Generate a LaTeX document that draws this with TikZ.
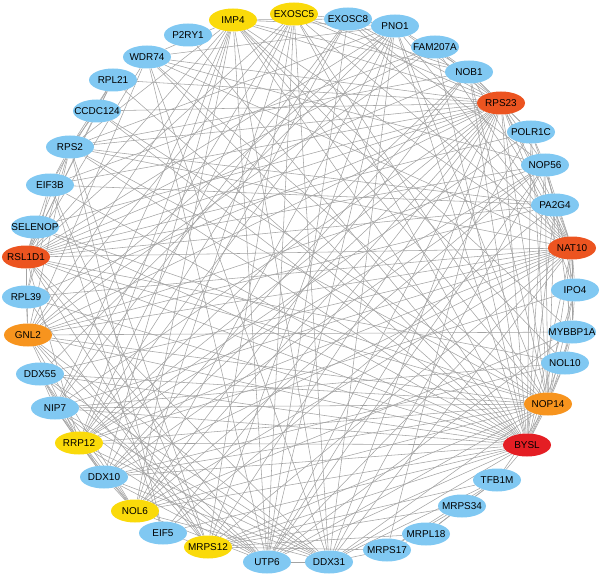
\documentclass[tikz,border=0pt]{standalone}
\usepackage{fontspec}
\setmainfont{Liberation Sans}
\usetikzlibrary{shapes.geometric,backgrounds}
\definecolor{nblue}{RGB}{128,200,242}
\definecolor{nyellow}{RGB}{250,218,10}
\definecolor{norange}{RGB}{247,148,30}
\definecolor{nredor}{RGB}{236,84,32}
\definecolor{nred}{RGB}{228,30,36}
\tikzset{
  gene/.style={ellipse, inner sep=0pt, minimum width=48bp, minimum height=23bp,
    font=\fontsize{10}{12}\selectfont, text=black},
  gb/.style={gene, fill=nblue},
  gy/.style={gene, fill=nyellow},
  go/.style={gene, fill=norange},
  gr/.style={gene, fill=nredor},
  gR/.style={gene, fill=nred},
  link/.style={draw=black!36, line width=0.55bp}
}
\begin{document}
\begin{tikzpicture}[x=1bp,y=-1bp]
\useasboundingbox (0,0) rectangle (600,575);
\node[gy] (IMP4) at (233,20) {\makebox[0pt]{IMP4}};
\node[gy] (EXOSC5) at (294,14) {\makebox[0pt]{EXOSC5}};
\node[gb] (EXOSC8) at (348,19) {\makebox[0pt]{EXOSC8}};
\node[gb] (PNO1) at (395,26) {\makebox[0pt]{PNO1}};
\node[gb] (FAM207A) at (435,47) {\makebox[0pt]{FAM207A}};
\node[gb] (NOB1) at (469,72) {\makebox[0pt]{NOB1}};
\node[gr] (RPS23) at (501,103) {\makebox[0pt]{RPS23}};
\node[gb] (POLR1C) at (531,132) {\makebox[0pt]{POLR1C}};
\node[gb] (NOP56) at (545,165) {\makebox[0pt]{NOP56}};
\node[gb] (PA2G4) at (555,205) {\makebox[0pt]{PA2G4}};
\node[gr] (NAT10) at (572,248) {\makebox[0pt]{NAT10}};
\node[gb] (IPO4) at (575,290) {\makebox[0pt]{IPO4}};
\node[gb] (MYBBP1A) at (572,332) {\makebox[0pt]{MYBBP1A}};
\node[gb] (NOL10) at (565,363) {\makebox[0pt]{NOL10}};
\node[go] (NOP14) at (548,404) {\makebox[0pt]{NOP14}};
\node[gR] (BYSL) at (527,445) {\makebox[0pt]{BYSL}};
\node[gb] (TFB1M) at (497,480) {\makebox[0pt]{TFB1M}};
\node[gb] (MRPS34) at (462,506) {\makebox[0pt]{MRPS34}};
\node[gb] (MRPL18) at (426,534) {\makebox[0pt]{MRPL18}};
\node[gb] (MRPS17) at (387,550) {\makebox[0pt]{MRPS17}};
\node[gb] (DDX31) at (329,562) {\makebox[0pt]{DDX31}};
\node[gb] (UTP6) at (267,562) {\makebox[0pt]{UTP6}};
\node[gy] (MRPS12) at (208,547) {\makebox[0pt]{MRPS12}};
\node[gb] (EIF5) at (163,533) {\makebox[0pt]{EIF5}};
\node[gy] (NOL6) at (135,511) {\makebox[0pt]{NOL6}};
\node[gb] (DDX10) at (104,477) {\makebox[0pt]{DDX10}};
\node[gy] (RRP12) at (79,443) {\makebox[0pt]{RRP12}};
\node[gb] (NIP7) at (55,408) {\makebox[0pt]{NIP7}};
\node[gb] (DDX55) at (40,374) {\makebox[0pt]{DDX55}};
\node[go] (GNL2) at (28,335) {\makebox[0pt]{GNL2}};
\node[gb] (RPL39) at (26,297) {\makebox[0pt]{RPL39}};
\node[gr] (RSL1D1) at (26,257) {\makebox[0pt]{RSL1D1}};
\node[gb] (SELENOP) at (35,227) {\makebox[0pt]{SELENOP}};
\node[gb] (EIF3B) at (50,185) {\makebox[0pt]{EIF3B}};
\node[gb] (RPS2) at (70,147) {\makebox[0pt]{RPS2}};
\node[gb] (CCDC124) at (97,111) {\makebox[0pt]{CCDC124}};
\node[gb] (RPL21) at (113,80) {\makebox[0pt]{RPL21}};
\node[gb] (WDR74) at (147,57) {\makebox[0pt]{WDR74}};
\node[gb] (P2RY1) at (188,35) {\makebox[0pt]{P2RY1}};
\begin{pgfonlayer}{background}
\foreach \a/\b in {
 IMP4/EXOSC8, IMP4/PNO1, IMP4/NOB1, IMP4/RPS23, IMP4/NAT10, IMP4/NOP14, IMP4/BYSL,
 IMP4/DDX31, IMP4/UTP6, IMP4/NOL6, IMP4/DDX10, IMP4/RRP12, IMP4/NIP7, IMP4/GNL2,
 IMP4/RSL1D1, IMP4/WDR74, IMP4/RPS2, IMP4/NOL10, IMP4/MYBBP1A,
 EXOSC5/EXOSC8, EXOSC5/NOB1, EXOSC5/RPS23, EXOSC5/NAT10, EXOSC5/NOP14, EXOSC5/BYSL,
 EXOSC5/UTP6, EXOSC5/DDX31, EXOSC5/RRP12, EXOSC5/NOL6, EXOSC5/GNL2, EXOSC5/RSL1D1,
 EXOSC5/MRPS12, EXOSC5/NIP7,
 EXOSC8/PNO1, EXOSC8/RPS23, EXOSC8/NAT10, EXOSC8/NOP56, EXOSC8/UTP6, EXOSC8/DDX10,
 EXOSC8/RRP12, EXOSC8/NIP7,
 PNO1/NOB1, PNO1/RPS23, PNO1/NAT10, PNO1/BYSL, PNO1/NOP14, PNO1/UTP6, PNO1/DDX31,
 PNO1/NOL6, PNO1/RRP12, PNO1/GNL2, PNO1/RSL1D1, PNO1/DDX55, PNO1/RPS2, PNO1/WDR74,
 PNO1/MRPS12,
 FAM207A/RPS23, FAM207A/NOB1, FAM207A/BYSL, FAM207A/RSL1D1, FAM207A/GNL2,
 FAM207A/NAT10, FAM207A/EIF3B,
 NOB1/RPS23, NOB1/POLR1C, NOB1/NAT10, NOB1/NOP14, NOB1/BYSL, NOB1/RRP12,
 NOB1/RSL1D1, NOB1/NOL6, NOB1/RPS2, NOB1/DDX10,
 RPS23/POLR1C, RPS23/NOP56, RPS23/PA2G4, RPS23/NAT10, RPS23/IPO4, RPS23/NOP14,
 RPS23/BYSL, RPS23/MRPS12, RPS23/UTP6, RPS23/DDX31, RPS23/NOL6, RPS23/EIF5,
 RPS23/DDX10, RPS23/RRP12, RPS23/NIP7, RPS23/GNL2, RPS23/RPL39, RPS23/RSL1D1,
 RPS23/SELENOP, RPS23/EIF3B, RPS23/RPS2, RPS23/CCDC124, RPS23/RPL21, RPS23/WDR74,
 RPS23/MRPS17,
 POLR1C/NOP56, POLR1C/NAT10, POLR1C/BYSL, POLR1C/NOP14, POLR1C/RSL1D1,
 POLR1C/UTP6, POLR1C/RRP12,
 NOP56/PA2G4, NOP56/NAT10, NOP56/IPO4, NOP56/NOP14, NOP56/BYSL, NOP56/UTP6,
 NOP56/DDX31, NOP56/NOL6, NOP56/RRP12, NOP56/RSL1D1, NOP56/GNL2, NOP56/WDR74,
 NOP56/DDX10,
 PA2G4/NAT10, PA2G4/MYBBP1A, PA2G4/BYSL, PA2G4/NOP14, PA2G4/RSL1D1, PA2G4/GNL2,
 PA2G4/EIF3B, PA2G4/RPS2, PA2G4/EIF5,
 NAT10/IPO4, NAT10/MYBBP1A, NAT10/NOL10, NAT10/NOP14, NAT10/BYSL, NAT10/DDX31,
 NAT10/UTP6, NAT10/NOL6, NAT10/DDX10, NAT10/RRP12, NAT10/NIP7, NAT10/DDX55,
 NAT10/GNL2, NAT10/RSL1D1, NAT10/RPL39, NAT10/WDR74, NAT10/RPS2, NAT10/MRPS12,
 IPO4/MYBBP1A, IPO4/NOP14, IPO4/BYSL, IPO4/RRP12,
 MYBBP1A/NOL10, MYBBP1A/NOP14, MYBBP1A/BYSL, MYBBP1A/GNL2,
 MYBBP1A/NOL6, MYBBP1A/UTP6,
 NOL10/NOP14, NOL10/BYSL, NOL10/RSL1D1, NOL10/DDX10, NOL10/NIP7,
 NOP14/BYSL, NOP14/TFB1M, NOP14/DDX31, NOP14/UTP6, NOP14/NOL6, NOP14/DDX10,
 NOP14/RRP12, NOP14/NIP7, NOP14/DDX55, NOP14/GNL2, NOP14/RSL1D1, NOP14/SELENOP,
 NOP14/RPS2, NOP14/WDR74, NOP14/CCDC124, NOP14/MRPS12,
 BYSL/TFB1M, BYSL/DDX31, BYSL/UTP6, BYSL/MRPS12, BYSL/NOL6, BYSL/DDX10, BYSL/RRP12,
 BYSL/NIP7, BYSL/DDX55, BYSL/GNL2, BYSL/RPL39, BYSL/RSL1D1, BYSL/SELENOP,
 BYSL/EIF3B, BYSL/RPS2, BYSL/CCDC124, BYSL/RPL21, BYSL/WDR74, BYSL/P2RY1, BYSL/EIF5,
 TFB1M/MRPS34, TFB1M/MRPL18, TFB1M/MRPS17, TFB1M/MRPS12, TFB1M/DDX31,
 MRPS34/MRPL18, MRPS34/MRPS17, MRPS34/MRPS12,
 MRPL18/MRPS17, MRPL18/MRPS12,
 MRPS17/MRPS12, MRPS17/DDX31,
 DDX31/UTP6, DDX31/NOL6, DDX31/DDX10, DDX31/RRP12, DDX31/GNL2, DDX31/RSL1D1,
 DDX31/NIP7, DDX31/DDX55, DDX31/WDR74,
 UTP6/NOL6, UTP6/DDX10, UTP6/RRP12, UTP6/NIP7, UTP6/GNL2, UTP6/RSL1D1, UTP6/DDX55,
 UTP6/WDR74,
 MRPS12/EIF5, MRPS12/RSL1D1, MRPS12/GNL2, MRPS12/RPL39, MRPS12/RPS2, MRPS12/EIF3B,
 EIF5/EIF3B, EIF5/RPS2,
 NOL6/DDX10, NOL6/RRP12, NOL6/NIP7, NOL6/GNL2, NOL6/DDX55,
 DDX10/RRP12, DDX10/NIP7, DDX10/DDX55,
 RRP12/NIP7, RRP12/GNL2, RRP12/RSL1D1, RRP12/DDX55,
 NIP7/DDX55,
 GNL2/RSL1D1, GNL2/RPL39, GNL2/RPS2, GNL2/WDR74,
 RPL39/RSL1D1, RPL39/RPS2, RPL39/EIF3B,
 RSL1D1/SELENOP, RSL1D1/EIF3B, RSL1D1/RPS2, RSL1D1/RPL21, RSL1D1/WDR74,
 RSL1D1/CCDC124,
 EIF3B/RPS2, EIF3B/RPL21,
 RPS2/RPL21, RPS2/CCDC124,
 CCDC124/RPL21}
 \draw[link] (\a) -- (\b);
\end{pgfonlayer}
\end{tikzpicture}
\end{document}
